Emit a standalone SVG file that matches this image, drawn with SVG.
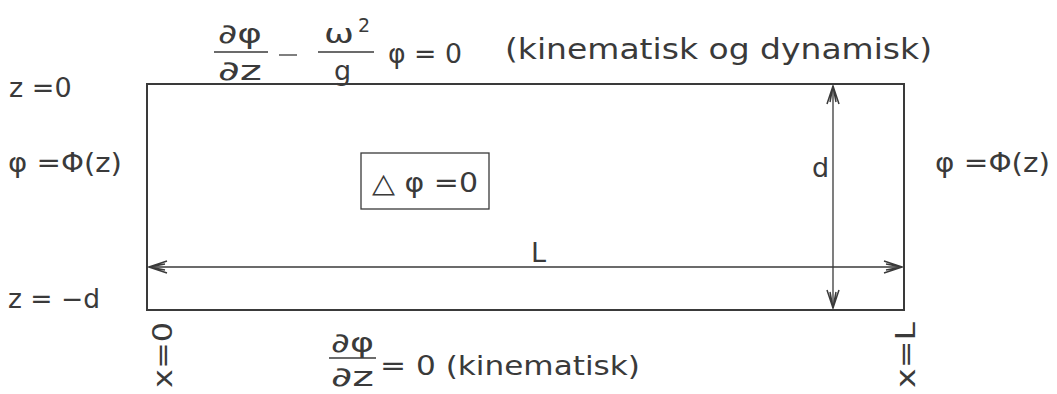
<svg xmlns="http://www.w3.org/2000/svg" width="1057" height="394" viewBox="0 0 1057 394">
<style>
.t{font-family:"DejaVu Sans","Liberation Sans",sans-serif;fill:#3a3a3a;font-size:27px}
.s{font-size:29px}
.ln{stroke:#3a3a3a;stroke-width:2;fill:none}
.thin{stroke:#3a3a3a;stroke-width:1.3;fill:none}
</style>
<defs>
<marker id="ah" viewBox="0 0 20 14" refX="19" refY="7" markerWidth="20" markerHeight="14" markerUnits="userSpaceOnUse" orient="auto-start-reverse">
<path d="M1,1 L19,7 L1,13 M3,4 L19,7 L3,10" fill="none" stroke="#3a3a3a" stroke-width="1.5"/>
</marker>
</defs>
<rect width="1057" height="394" fill="#fff"/>
<g id="domain">
<rect x="147" y="84" width="757" height="226" class="ln"/>
</g>
<g id="laplace">
<rect x="361" y="153" width="128" height="56" class="thin"/>
<text class="t" x="372" y="192" textLength="106" lengthAdjust="spacingAndGlyphs">△ φ =0</text>
</g>
<g id="connectors">
<line x1="833" y1="86" x2="833" y2="308" class="thin" marker-start="url(#ah)" marker-end="url(#ah)"/>
<line x1="149" y1="267" x2="902" y2="267" class="thin" marker-start="url(#ah)" marker-end="url(#ah)"/>
</g>
<g id="top-condition">
<text class="t" x="218" y="43" textLength="44" lengthAdjust="spacingAndGlyphs">∂φ</text>
<line x1="214" y1="52" x2="268" y2="52" class="thin"/>
<text class="t" x="218" y="80" textLength="44" lengthAdjust="spacingAndGlyphs">∂z</text>
<line x1="279" y1="55" x2="297" y2="55" class="thin"/>
<text class="t" x="324" y="43" textLength="30" lengthAdjust="spacingAndGlyphs">ω</text>
<text class="t" x="358" y="32" style="font-size:19px">2</text>
<line x1="318" y1="52" x2="374" y2="52" class="thin"/>
<text class="t" x="334" y="80">g</text>
<text class="t" x="388" y="63" textLength="74" lengthAdjust="spacingAndGlyphs">φ = 0</text>
<text class="t s" x="505" y="59" textLength="427" lengthAdjust="spacingAndGlyphs">(kinematisk og dynamisk)</text>
</g>
<g id="left-labels">
<text class="t" x="9" y="97">z =0</text>
<text class="t" x="8" y="172" textLength="114" lengthAdjust="spacingAndGlyphs">φ =Φ(z)</text>
<text class="t" x="8" y="308" textLength="92" lengthAdjust="spacingAndGlyphs">z = −d</text>
</g>
<g id="right-labels">
<text class="t" x="812" y="177">d</text>
<text class="t" x="935" y="172" textLength="115" lengthAdjust="spacingAndGlyphs">φ =Φ(z)</text>
<text class="t" x="531" y="262">L</text>
</g>
<g id="bottom-condition">
<text class="t" x="331" y="352" textLength="43" lengthAdjust="spacingAndGlyphs">∂φ</text>
<line x1="329" y1="358" x2="376" y2="358" class="thin"/>
<text class="t" x="331" y="386" textLength="43" lengthAdjust="spacingAndGlyphs">∂z</text>
<text class="t" x="380" y="375" textLength="260" lengthAdjust="spacingAndGlyphs">= 0 (kinematisk)</text>
</g>
<g id="x-labels">
<text class="t" transform="translate(172,388) rotate(-90)" textLength="66" lengthAdjust="spacingAndGlyphs">x=0</text>
<text class="t" transform="translate(915,388) rotate(-90)" textLength="66" lengthAdjust="spacingAndGlyphs">x=L</text>
</g>
</svg>
